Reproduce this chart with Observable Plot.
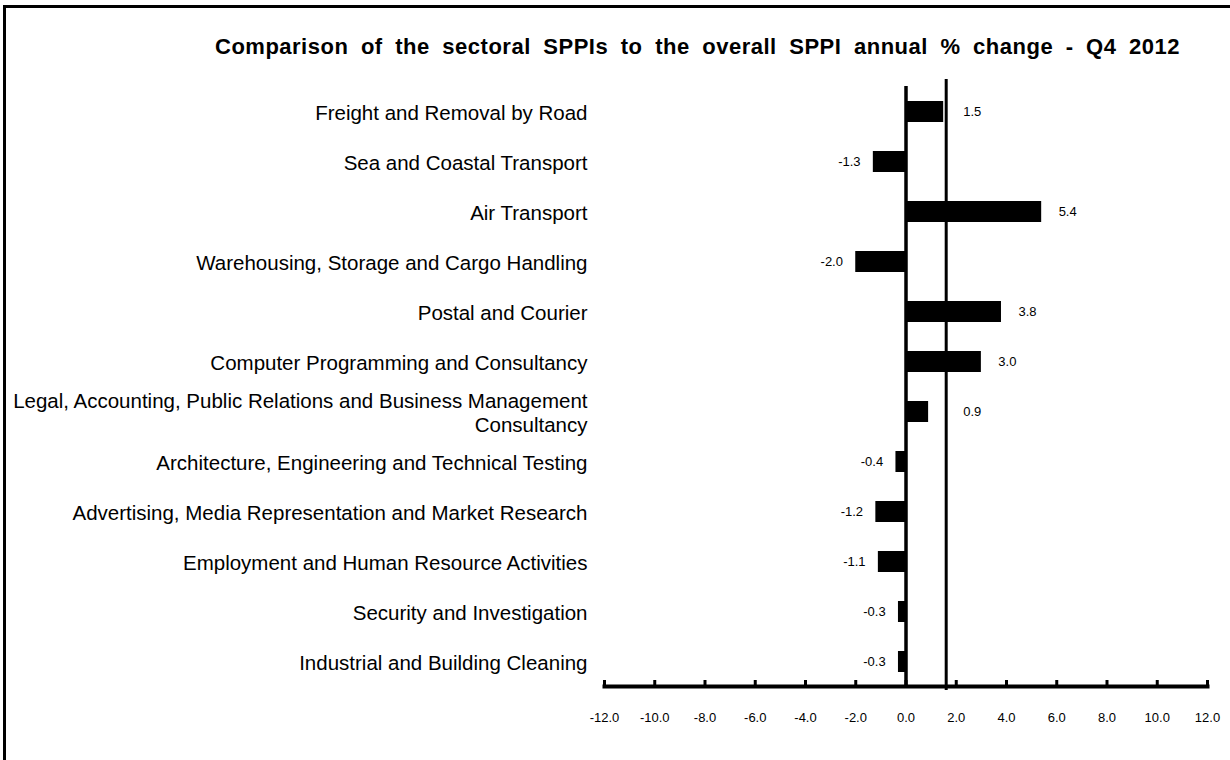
<!DOCTYPE html>
<html>
<head>
<meta charset="utf-8">
<script src="https://cdn.jsdelivr.net/npm/d3@7"></script>
<script src="https://cdn.jsdelivr.net/npm/@observablehq/plot@0.6"></script>
<style>
  html, body { margin: 0; padding: 0; background: #fff; }
  #wrap { position: relative; width: 1230px; height: 760px; overflow: hidden; font-family: "Liberation Sans", Arial, sans-serif; }
  #frame { position: absolute; left: 3px; top: 5px; width: 1400px; height: 900px; border-left: 3px solid #000; border-top: 3px solid #000; }
  #title { position: absolute; left: 215px; top: 34px; font-weight: bold; font-size: 22px; letter-spacing: 0.5px; color: #000; white-space: pre; }
  #chart { position: absolute; left: 0; top: 60px; }
</style>
</head>
<body>
<div id="wrap">
  <div id="frame"></div>
  <div id="title">Comparison of the sectoral SPPIs to the overall SPPI annual % change - Q4 2012</div>
  <div id="chart"></div>
</div>
<script>
const categories = [
  "Freight and Removal by Road",
  "Sea and Coastal Transport",
  "Air Transport",
  "Warehousing, Storage and Cargo Handling",
  "Postal and Courier",
  "Computer Programming and Consultancy",
  "Legal, Accounting, Public Relations and Business Management\nConsultancy",
  "Architecture, Engineering and Technical Testing",
  "Advertising, Media Representation and Market Research",
  "Employment and Human Resource Activities",
  "Security and Investigation",
  "Industrial and Building Cleaning"
];
const values = [1.5, -1.3, 5.4, -2.0, 3.8, 3.0, 0.9, -0.4, -1.2, -1.1, -0.3, -0.3];
const overallSPPI = [1.6];
const xTicks = [-12, -10, -8, -6, -4, -2, 0, 2, 4, 6, 8, 10, 12];

const data = categories.map((c, i) => ({category: c, value: values[i]}));
const overall = overallSPPI[0];

const plot = Plot.plot({
  width: 1230,
  height: 700,
  marginTop: 26,
  marginBottom: 74,
  marginLeft: 604,
  marginRight: 23,
  style: {fontFamily: "'Liberation Sans', Arial, sans-serif", color: "#000", background: "transparent"},
  x: {domain: [-12, 12]},
  y: {domain: categories, paddingInner: 0.58, paddingOuter: 0.29, axis: null},
  marks: [
    Plot.barX(data, {x: "value", y: "category", fill: "#000"}),
    Plot.ruleX([0], {stroke: "#000", strokeWidth: 3.5}),
    Plot.ruleX(overallSPPI, {stroke: "#000", strokeWidth: 3, insetTop: -7, insetBottom: -4}),
    Plot.frame({anchor: "bottom", stroke: "#000", strokeWidth: 4}),
    Plot.axisX({ticks: xTicks, tickFormat: d => d.toFixed(1), tickSize: -6, tickPadding: 32, strokeWidth: 3, fontSize: 13, fill: "#000", label: null}),
    Plot.text(data, {y: "category", text: "category", frameAnchor: "left", dx: -17, textAnchor: "end", fontSize: 20.5, lineHeight: 1.17, fill: "#000"}),
    Plot.text(data.filter(d => d.value >= 0), {x: d => Math.max(d.value, overall), y: "category", text: d => d.value.toFixed(1), dx: 26, fontSize: 13, fill: "#000", textAnchor: "middle"}),
    Plot.text(data.filter(d => d.value < 0), {x: "value", y: "category", text: d => d.value.toFixed(1), dx: -24, fontSize: 13, fill: "#000", textAnchor: "middle"})
  ]
});

document.getElementById("chart").appendChild(plot);

// center each line of multi-line category labels within its right-aligned block
plot.querySelectorAll("text").forEach(t => {
  const spans = t.querySelectorAll("tspan");
  if (spans.length > 1 && t.getAttribute("text-anchor") === "end") {
    const w = Math.max(...Array.from(spans, s => s.getComputedTextLength()));
    t.setAttribute("text-anchor", "middle");
    const tr = t.getAttribute("transform") || "";
    t.setAttribute("transform", tr + ` translate(${-w / 2},0)`);
  }
});

// widen word spacing of the title to span the same width as the original
const title = document.getElementById("title");
const spaces = (title.textContent.match(/ /g) || []).length;
const w0 = title.getBoundingClientRect().width;
title.style.wordSpacing = Math.max(0, (965 - w0) / spaces) + "px";
</script>
</body>
</html>
